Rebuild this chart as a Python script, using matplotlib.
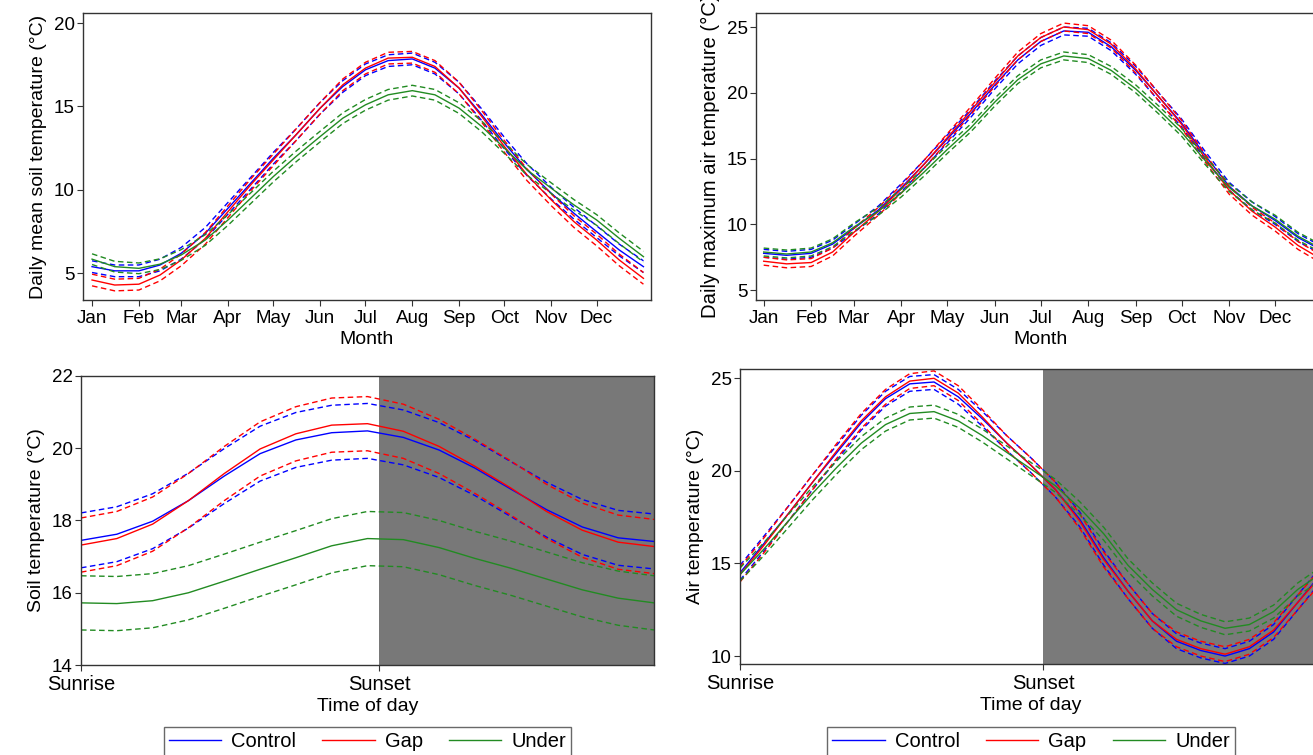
import matplotlib.pyplot as plt
import numpy as np

plt.rcParams['font.family'] = ['Liberation Sans', 'DejaVu Sans']
plt.rcParams['font.size'] = 13

# =========================
# DATA
# =========================
groups = ["Control", "Gap", "Under"]
colors = ["#0000ff", "#ff0000", "#228b22"]

month_days = [0, 31, 59, 90, 120, 151, 181, 212, 243, 273, 304, 334]
month_labels = ["Jan", "Feb", "Mar", "Apr", "May", "Jun",
                "Jul", "Aug", "Sep", "Oct", "Nov", "Dec"]

# day of year for the seasonal curves
doy = [0, 15, 31, 45, 59, 75, 90, 105, 120, 135, 151, 166, 181,
       196, 212, 227, 243, 258, 273, 288, 304, 319, 334, 349, 365]

# daily mean soil temperature
soil_control = [5.4, 5.15, 5.15, 5.5, 6.2, 7.4, 8.9, 10.4, 11.9, 13.3, 14.9, 16.2, 17.2,
                17.75, 17.85, 17.3, 16.1, 14.5, 12.8, 11.2, 9.8, 8.6, 7.5, 6.4, 5.4]
soil_gap = [4.6, 4.3, 4.35, 4.9, 5.8, 7.1, 8.7, 10.3, 11.8, 13.3, 14.9, 16.3, 17.3,
            17.9, 17.95, 17.4, 16.1, 14.4, 12.6, 10.9, 9.4, 8.1, 7.0, 5.8, 4.7]
soil_under = [5.85, 5.4, 5.3, 5.55, 6.1, 7.0, 8.2, 9.5, 10.8, 12.0, 13.2, 14.3, 15.1,
              15.7, 15.95, 15.7, 14.9, 13.8, 12.5, 11.2, 10.1, 9.1, 8.2, 7.1, 6.0]
soil_ci = [0.35, 0.35, 0.32]

# daily maximum air temperature
air_control = [7.8, 7.65, 7.8, 8.5, 9.7, 11.1, 12.8, 14.6, 16.5, 18.4, 20.6, 22.5, 23.9,
               24.7, 24.6, 23.5, 21.7, 19.7, 17.7, 15.3, 12.9, 11.4, 10.3, 9.0, 8.0]
air_gap = [7.2, 7.0, 7.1, 7.9, 9.4, 11.0, 12.7, 14.6, 16.6, 18.6, 20.8, 22.8, 24.2,
           25.0, 24.8, 23.7, 21.8, 19.7, 17.6, 15.1, 12.6, 11.0, 9.8, 8.4, 7.3]
air_under = [7.9, 7.75, 7.9, 8.6, 9.8, 11.0, 12.4, 14.0, 15.7, 17.3, 19.3, 21.0, 22.2,
             22.8, 22.6, 21.7, 20.3, 18.7, 17.0, 14.9, 12.8, 11.4, 10.4, 9.1, 8.1]
air_ci = [0.3, 0.3, 0.3]

# diurnal soil temperature (hours after sunrise)
sunset = 12.5
soil_hours = [0, 1.5, 3, 4.5, 6, 7.5, 9, 10.5, 12, 13.5, 15, 16.5, 18, 19.5, 21, 22.5, 24]
dsoil_control = [17.45, 17.62, 17.98, 18.55, 19.23, 19.85, 20.23, 20.43, 20.48,
                 20.3, 19.95, 19.45, 18.87, 18.3, 17.82, 17.52, 17.42]
dsoil_gap = [17.32, 17.5, 17.9, 18.55, 19.3, 19.98, 20.4, 20.64, 20.68,
             20.47, 20.05, 19.5, 18.9, 18.25, 17.73, 17.4, 17.28]
dsoil_under = [15.72, 15.7, 15.78, 16.0, 16.32, 16.65, 16.97, 17.3, 17.5,
               17.47, 17.25, 16.95, 16.68, 16.38, 16.08, 15.85, 15.72]
dsoil_ci = [0.76, 0.75, 0.75]

# diurnal air temperature
air_hours = [0, 1, 2, 3, 4, 5, 6, 7, 8, 9, 10, 11, 12, 13, 14, 15, 16,
             17, 18, 19, 20, 21, 22, 23, 24]
dair_control = [14.5, 16.1, 17.7, 19.4, 21.0, 22.6, 23.9, 24.7, 24.8, 24.0, 22.8, 21.5,
                20.3, 19.0, 17.4, 15.3, 13.5, 11.9, 10.8, 10.3, 10.0, 10.4, 11.3, 12.9, 14.5]
dair_gap = [14.4, 16.0, 17.7, 19.4, 21.1, 22.7, 24.0, 24.85, 25.0, 24.2, 22.9, 21.5,
            20.3, 19.0, 17.3, 15.2, 13.5, 11.9, 10.9, 10.4, 10.1, 10.5, 11.4, 12.9, 14.4]
dair_under = [14.4, 15.8, 17.3, 18.8, 20.2, 21.5, 22.5, 23.1, 23.2, 22.7, 21.9, 21.0,
              20.1, 19.2, 18.0, 16.6, 14.9, 13.6, 12.5, 11.9, 11.5, 11.7, 12.4, 13.6, 14.5]
dair_ci = [0.4, 0.4, 0.35]

# =========================
# FIGURE
# =========================
fig = plt.figure(figsize=(13.13, 7.55), dpi=100, facecolor="white")

ax_tl = fig.add_axes([0.0632, 0.6026, 0.4326, 0.3801])
ax_tr = fig.add_axes([0.5758, 0.6026, 0.4326, 0.3801])
ax_bl = fig.add_axes([0.0617, 0.1192, 0.4364, 0.3828])
ax_br = fig.add_axes([0.5636, 0.1205, 0.4433, 0.3907])


def draw_curves(ax, x, means, cis):
    for mean, ci, col in zip(means, cis, colors):
        m = np.array(mean)
        ax.plot(x, m, color=col, lw=1.0)
        ax.plot(x, m + ci, color=col, lw=1.0, dashes=(4, 2.5))
        ax.plot(x, m - ci, color=col, lw=1.0, dashes=(4, 2.5))


def style(ax, xsize=13.5):
    for sp in ax.spines.values():
        sp.set_color("#333333")
        sp.set_linewidth(1.0)
    ax.tick_params(direction="out", length=4, width=0.8, color="#333333")
    ax.tick_params(axis="x", labelsize=xsize, pad=3)
    ax.tick_params(axis="y", labelsize=13.5, pad=2)


# top left
draw_curves(ax_tl, doy, [soil_control, soil_gap, soil_under], soil_ci)
ax_tl.set_xlim(-6, 370)
ax_tl.set_ylim(3.4, 20.6)
ax_tl.set_yticks([5, 10, 15, 20])
ax_tl.set_xticks(month_days)
ax_tl.set_xticklabels(month_labels)
ax_tl.set_xlabel("Month", fontsize=14, labelpad=3)
ax_tl.set_ylabel("Daily mean soil temperature (°C)", fontsize=14, labelpad=5)
style(ax_tl)

# top right (label runs off the top edge, as in the source figure)
draw_curves(ax_tr, doy, [air_control, air_gap, air_under], air_ci)
ax_tr.set_xlim(-5, 366)
ax_tr.set_ylim(4.25, 26.06)
ax_tr.set_yticks([5, 10, 15, 20, 25])
ax_tr.set_xticks(month_days)
ax_tr.set_xticklabels(month_labels)
ax_tr.set_xlabel("Month", fontsize=14, labelpad=3)
ax_tr.set_ylabel("Daily maximum air temperature (°C)", fontsize=14.6, labelpad=5)
style(ax_tr)

# bottom left
ax_bl.axvspan(sunset, 24, color="#787878", lw=0)
draw_curves(ax_bl, soil_hours, [dsoil_control, dsoil_gap, dsoil_under], dsoil_ci)
ax_bl.set_xlim(0, 24)
ax_bl.set_ylim(14, 22)
ax_bl.set_yticks([14, 16, 18, 20, 22])
ax_bl.set_xticks([0, sunset])
ax_bl.set_xticklabels(["Sunrise", "Sunset"])
ax_bl.set_xlabel("Time of day", fontsize=14, labelpad=3)
ax_bl.set_ylabel("Soil temperature (°C)", fontsize=14, labelpad=5)
style(ax_bl, xsize=14.5)

# bottom right
ax_br.axvspan(sunset, 24, color="#7a7a7a", lw=0)
draw_curves(ax_br, air_hours, [dair_control, dair_gap, dair_under], dair_ci)
ax_br.set_xlim(0, 24)
ax_br.set_ylim(9.57, 25.5)
ax_br.set_yticks([10, 15, 20, 25])
ax_br.set_xticks([0, sunset])
ax_br.set_xticklabels(["Sunrise", "Sunset"])
ax_br.set_xlabel("Time of day", fontsize=14, labelpad=3)
ax_br.set_ylabel("Air temperature (°C)", fontsize=14, labelpad=5)
style(ax_br, xsize=14.5)

# legends
for ax, y0 in [(ax_bl, -0.2145), (ax_br, -0.2136)]:
    handles = [plt.Line2D([], [], color=c, lw=1.0) for c in colors]
    leg = ax.legend(handles, groups, loc="upper center", bbox_to_anchor=(0.5, y0),
                    ncol=3, frameon=True, fancybox=False, fontsize=14.5,
                    handlelength=2.6, columnspacing=1.3, handletextpad=0.5,
                    borderpad=0.25, borderaxespad=0)
    leg.get_frame().set_edgecolor("#444444")
    leg.get_frame().set_linewidth(1.0)

fig.savefig("out.png", dpi=100)
